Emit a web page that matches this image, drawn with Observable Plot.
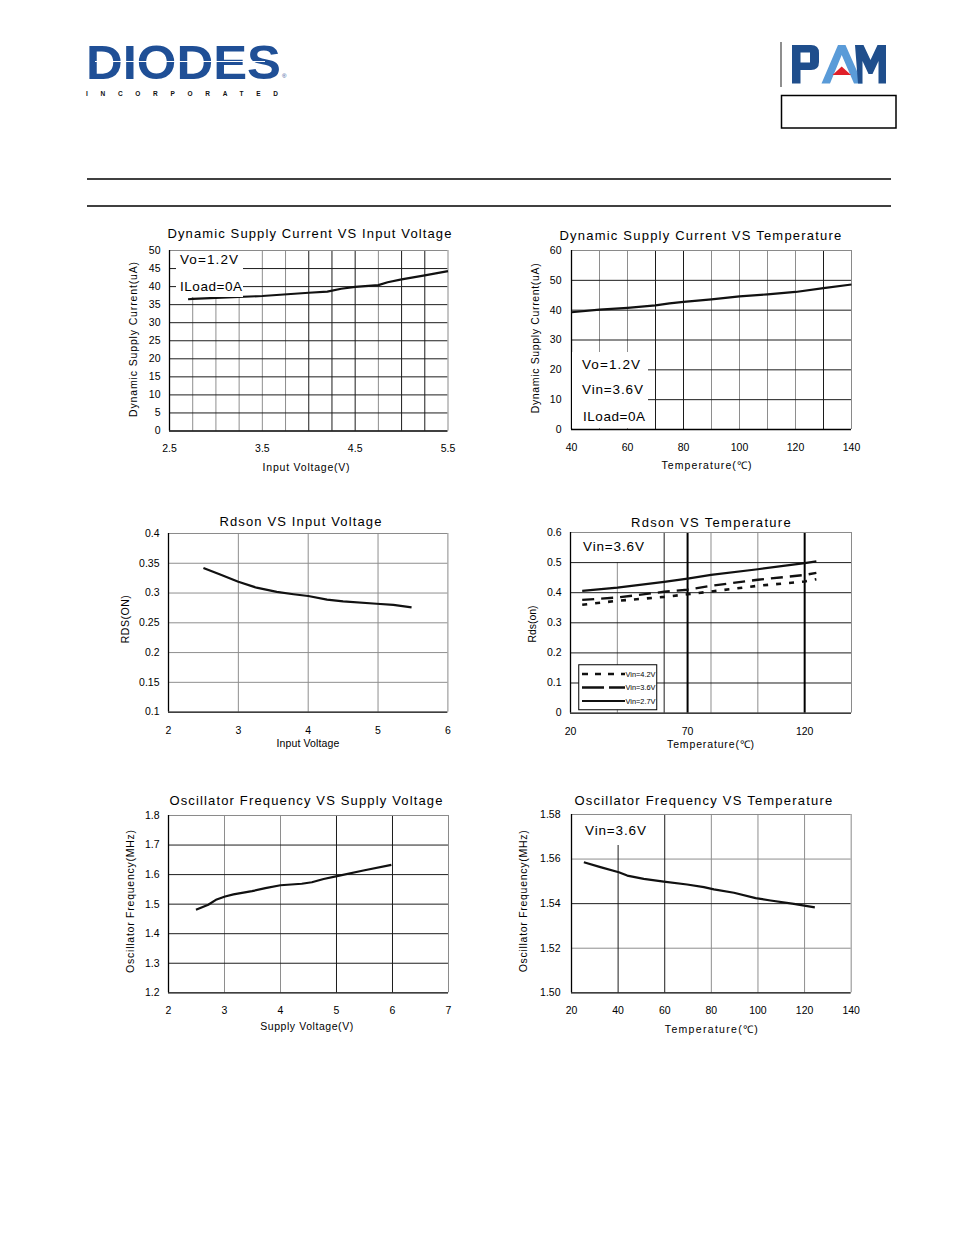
<!DOCTYPE html>
<html>
<head>
<meta charset="utf-8">
<script src="https://cdn.jsdelivr.net/npm/d3@7"></script>
<script src="https://cdn.jsdelivr.net/npm/@observablehq/plot@0.6"></script>
<style>
  html, body { margin: 0; padding: 0; background: #fff; }
  #page { position: relative; width: 954px; height: 1235px; overflow: hidden; background: #fff; }
  .abs { position: absolute; }
</style>
</head>
<body>
<div id="page"></div>
<script>
// ---------------- DATA ----------------
// Chart 1: Dynamic Supply Current VS Input Voltage
const c1X = [2.7, 2.75, 3.0, 3.5, 4.0, 4.2, 4.35, 4.5, 4.75, 4.85, 5.0, 5.25, 5.5];
const c1Y = [36.5, 36.6, 36.9, 37.4, 38.3, 38.6, 39.4, 39.9, 40.4, 41.2, 42.0, 43.1, 44.3];
const c1XTicks = [2.5, 3.5, 4.5, 5.5];
const c1YTicks = [0, 5, 10, 15, 20, 25, 30, 35, 40, 45, 50];

// Chart 2: Dynamic Supply Current VS Temperature
const c2X = [40, 50, 60, 70, 75, 80, 90, 100, 110, 120, 130, 140];
const c2Y = [39.3, 40.2, 40.8, 41.6, 42.3, 42.8, 43.6, 44.6, 45.3, 46.1, 47.4, 48.6];
const c2XTicks = [40, 60, 80, 100, 120, 140];
const c2YTicks = [0, 10, 20, 30, 40, 50, 60];

// Chart 3: Rdson VS Input Voltage
const c3X = [2.5, 2.74, 3.0, 3.26, 3.55, 3.79, 4.0, 4.27, 4.5, 4.98, 5.22, 5.48];
const c3Y = [0.342, 0.331, 0.319, 0.309, 0.302, 0.298, 0.295, 0.289, 0.286, 0.282, 0.280, 0.276];
const c3XTicks = [2, 3, 4, 5, 6];
const c3YTicks = [0.1, 0.15, 0.2, 0.25, 0.3, 0.35, 0.4];

// Chart 4: Rdson VS Temperature
const c4X = [25, 40, 60, 70, 80, 100, 120, 125];
const c4Y42 = [0.360, 0.373, 0.386, 0.395, 0.404, 0.423, 0.437, 0.445];
const c4Y36 = [0.376, 0.384, 0.403, 0.410, 0.423, 0.443, 0.459, 0.466];
const c4Y27 = [0.406, 0.417, 0.436, 0.447, 0.459, 0.478, 0.498, 0.504];
const c4Labels = ["Vin=4.2V", "Vin=3.6V", "Vin=2.7V"];
const c4XTicks = [20, 70, 120];
const c4YTicks = [0, 0.1, 0.2, 0.3, 0.4, 0.5, 0.6];

// Chart 5: Oscillator Frequency VS Supply Voltage
const c5X = [2.49, 2.71, 2.86, 3.01, 3.16, 3.49, 3.73, 4.0, 4.38, 4.56, 4.77, 5.01, 5.48, 5.98];
const c5Y = [1.481, 1.498, 1.516, 1.526, 1.533, 1.544, 1.554, 1.564, 1.569, 1.574, 1.585, 1.595, 1.614, 1.633];
const c5XTicks = [2, 3, 4, 5, 6, 7];
const c5YTicks = [1.2, 1.3, 1.4, 1.5, 1.6, 1.7, 1.8];

// Chart 6: Oscillator Frequency VS Temperature
const c6X = [25.3, 32.4, 40.3, 43.9, 51, 59.6, 69.6, 76.8, 81.1, 89.7, 99, 105.4, 115.4, 124.4];
const c6Y = [1.5586, 1.5564, 1.5541, 1.5526, 1.5511, 1.5499, 1.5486, 1.5474, 1.5464, 1.5449, 1.5425, 1.5414, 1.5399, 1.5383];
const c6XTicks = [20, 40, 60, 80, 100, 120, 140];
const c6YTicks = [1.50, 1.52, 1.54, 1.56, 1.58];

// ---------------- HELPERS ----------------
const FONT = "'Liberation Sans', Arial, sans-serif";
const LIGHT = "#8e8e8e", DARK = "#1c1c1c", FRAMEL = "#8a8a8a";
const page = document.getElementById("page");
const ctx = document.createElement("canvas").getContext("2d");

function txt(str, o) {
  const size = o.size || 10.5, weight = o.weight || "normal";
  const d = document.createElement("div");
  d.textContent = str;
  ctx.font = `${weight} ${size}px ${FONT}`;
  const m = ctx.measureText(str).width;
  const ls = o.width ? (o.width - m) / Math.max(1, str.length - 1) : 0;
  d.style.cssText = `position:absolute;left:${o.x}px;top:${o.y}px;font-family:${FONT};font-size:${size}px;font-weight:${weight};letter-spacing:${ls}px;white-space:nowrap;line-height:1;color:${o.color || "#000"};`;
  let t;
  if (o.anchor === "start") t = "translate(0,-50%)";
  else t = "translate(-50%,-50%)";
  if (o.rotate) t += " rotate(-90deg)";
  d.style.transform = t;
  page.appendChild(d);
  return d;
}

function box(b) {
  const d = document.createElement("div");
  d.style.cssText = `position:absolute;left:${b.x}px;top:${b.y}px;width:${b.w}px;height:${b.h}px;background:#fff;`;
  page.appendChild(d);
}

function toRows(xs, ys) { return xs.map((x, i) => ({x, y: ys[i]})); }

function makeChart(c) {
  const mL = 50, mR = 12, mT = 8, mB = 30;
  const w = c.R - c.L, h = c.B - c.T;
  const [x0, x1] = c.xDomain, [y0, y1] = c.yDomain;
  const marks = [];
  if (c.gyLight) marks.push(Plot.ruleY(c.gyLight, {stroke: LIGHT, strokeWidth: 1}));
  if (c.gxLight) marks.push(Plot.ruleX(c.gxLight, {stroke: LIGHT, strokeWidth: 1}));
  if (c.gyDark) marks.push(Plot.ruleY(c.gyDark, {stroke: DARK, strokeWidth: 1}));
  if (c.gxDark) marks.push(Plot.ruleX(c.gxDark, {stroke: DARK, strokeWidth: 1}));
  if (c.gxThick) marks.push(Plot.ruleX(c.gxThick, {stroke: "#000", strokeWidth: 2}));
  marks.push(Plot.ruleX([x1], {stroke: FRAMEL, strokeWidth: 1}));
  marks.push(Plot.ruleY([y1], {stroke: FRAMEL, strokeWidth: 1}));
  marks.push(Plot.ruleX([x0], {stroke: "#000", strokeWidth: 1.3}));
  marks.push(Plot.ruleY([y0], {stroke: "#000", strokeWidth: 1.3}));
  for (const s of c.series) {
    marks.push(Plot.line(toRows(s.x, s.y), {x: "x", y: "y", stroke: "#111", strokeWidth: s.sw || 2.2, strokeDasharray: s.dash, strokeLinecap: "butt"}));
  }
  const svg = Plot.plot({
    width: w + mL + mR, height: h + mT + mB,
    marginLeft: mL, marginRight: mR, marginTop: mT, marginBottom: mB,
    x: {domain: [x0, x1], ticks: c.xTicks, tickSize: 0, tickPadding: 14, tickFormat: c.xFmt || (d => String(d)), label: null},
    y: {domain: [y0, y1], ticks: c.yTicks, tickSize: 0, tickPadding: c.yPad, tickFormat: c.yFmt || (d => String(d)), label: null},
    style: {fontFamily: FONT, fontSize: "10.5px", color: "#000", background: "transparent", overflow: "visible"},
    marks
  });
  const wrap = document.createElement("div");
  wrap.className = "abs";
  wrap.style.left = (c.L - mL) + "px";
  wrap.style.top = (c.T - mT) + "px";
  wrap.appendChild(svg);
  page.appendChild(wrap);
}

// ---------------- HEADER ----------------
const header = document.createElementNS("http://www.w3.org/2000/svg", "svg");
header.setAttribute("width", 954); header.setAttribute("height", 215);
header.setAttribute("style", "position:absolute;left:0;top:0");
header.innerHTML = `
  <line x1="781" y1="42" x2="781" y2="87" stroke="#444" stroke-width="1.2"/>
  <path d="M792,45 H811 Q819,45 819,53 V62 Q819,70 811,70 H800.5 V83.5 H792 Z M800.5,52.5 V62.5 H810 V52.5 Z" fill="#1f4e8c" fill-rule="evenodd"/>
  <polygon points="821.5,83.5 838,45 845.5,45 862.5,83.5 854,83.5 841.7,55 830,83.5" fill="#5a9bd8"/>
  <polygon points="841.7,66.5 851,75 832.5,75" fill="#e0202a"/>
  <polygon points="855,45 863.5,45 870.5,60 877.5,45 886,45 886,83.5 878.5,83.5 878.5,61 872.5,74 868.5,74 862.5,61 862.5,83.5 858,83.5" fill="#1f4e8c"/>
  <rect x="781.5" y="95.5" width="114.5" height="32.5" fill="none" stroke="#000" stroke-width="1.5"/>
  <line x1="87" y1="179" x2="891" y2="179" stroke="#000" stroke-width="1.5"/>
  <line x1="87" y1="206" x2="891" y2="206" stroke="#000" stroke-width="1.5"/>
`;
page.appendChild(header);

// DIODES logo (text); placed so the font boxes of the two lines do not touch
{
  const LOGOFONT = "'Liberation Sans', Arial, sans-serif";
  const fs = 49, baseline = 79;
  ctx.font = `bold ${fs}px ${LOGOFONT}`;
  const m = ctx.measureText("DIODES").width;
  const sx = 195 / m;
  const d = document.createElement("div");
  d.textContent = "DIODES";
  d.style.cssText = `position:absolute;left:86px;top:${baseline - 0.905 * fs}px;font-family:${LOGOFONT};font-weight:bold;font-size:${fs}px;line-height:${1.117 * fs}px;color:#1f4f96;white-space:nowrap;transform-origin:0 0;transform:scaleX(${sx});`;
  page.appendChild(d);
  const stripe = document.createElement("div");
  stripe.style.cssText = "position:absolute;left:95px;top:60.5px;width:170px;height:1.6px;background:#fff;";
  page.appendChild(stripe);
  const r = document.createElement("div");
  r.textContent = "®";
  r.style.cssText = `position:absolute;left:282px;top:73px;font-family:${LOGOFONT};font-size:6px;line-height:6px;color:#1f4f96;`;
  page.appendChild(r);
  const inc = "INCORPORATED";
  const ifs = 6.5;
  ctx.font = `bold ${ifs}px ${LOGOFONT}`;
  const mi = ctx.measureText(inc).width;
  const ls = (192 - mi) / (inc.length - 1);
  const t = document.createElement("div");
  t.textContent = inc;
  const ib = 96;
  t.style.cssText = `position:absolute;left:86px;top:${ib - 0.905 * ifs}px;font-family:${LOGOFONT};font-weight:bold;font-size:${ifs}px;line-height:${1.117 * ifs}px;letter-spacing:${ls}px;color:#111;white-space:nowrap;`;
  page.appendChild(t);
}

// ---------------- CHARTS ----------------
// Chart 1
makeChart({L: 169, T: 249.5, R: 447.5, B: 430, xDomain: [2.5, 5.5], yDomain: [0, 50],
  xTicks: c1XTicks, yTicks: c1YTicks, yPad: 9,
  gxLight: [2.75, 3.0, 3.25, 3.5, 3.75, 4.75], gxDark: [4.0, 4.25, 4.5, 5.0, 5.25],
  gyDark: [5, 10, 15, 20, 25, 30, 35, 40, 45],
  series: [{x: c1X, y: c1Y}]});
box({x: 176, y: 250.5, w: 67, h: 46});
txt("Vo=1.2V", {x: 180, y: 260, size: 13.5, width: 58, anchor: "start"});
txt("ILoad=0A", {x: 180, y: 287, size: 13.5, width: 62, anchor: "start"});
txt("Dynamic Supply Current VS Input Voltage", {x: 310, y: 232.5, size: 13, width: 284});
txt("Input Voltage(V)", {x: 306.5, y: 466.5, size: 10.5, width: 87});
txt("Dynamic Supply Current(uA)", {x: 133, y: 338.5, size: 10.5, width: 155, rotate: true});

// Chart 2
makeChart({L: 570.5, T: 250, R: 850.5, B: 429, xDomain: [40, 140], yDomain: [0, 60],
  xTicks: c2XTicks, yTicks: c2YTicks, yPad: 10,
  gxLight: [50, 60, 90, 100, 110, 120], gxDark: [70, 80, 130],
  gyDark: [10, 20, 30, 40, 50],
  series: [{x: c2X, y: c2Y}]});
box({x: 571.5, y: 352, w: 76.5, h: 76});
txt("Vo=1.2V", {x: 582, y: 365, size: 13.5, width: 58, anchor: "start"});
txt("Vin=3.6V", {x: 582, y: 390, size: 13.5, width: 61, anchor: "start"});
txt("ILoad=0A", {x: 583, y: 416.5, size: 13.5, width: 62, anchor: "start"});
txt("Dynamic Supply Current VS Temperature", {x: 701, y: 235, size: 13, width: 282});
txt("Temperature(\u2103)", {x: 707, y: 465, size: 10.5, width: 90});
txt("Dynamic Supply Current(uA)", {x: 535, y: 338, size: 10.5, width: 150, rotate: true});

// Chart 3
makeChart({L: 168.3, T: 532.7, R: 447.7, B: 711.3, xDomain: [2, 6], yDomain: [0.1, 0.4],
  xTicks: c3XTicks, yTicks: c3YTicks, yPad: 9,
  gxLight: [3, 4, 5], gyLight: [0.15, 0.2, 0.25, 0.3, 0.35],
  series: [{x: c3X, y: c3Y}]});
txt("Rdson VS Input Voltage", {x: 301, y: 521, size: 13, width: 162});
txt("Input Voltage", {x: 308, y: 743, size: 10.5, width: 63});
txt("RDS(ON)", {x: 125, y: 619, size: 10.5, width: 48, rotate: true});

// Chart 4
makeChart({L: 570, T: 531.7, R: 851, B: 712.3, xDomain: [20, 140], yDomain: [0, 0.6],
  xTicks: c4XTicks, yTicks: c4YTicks, yPad: 9,
  gxLight: [40, 80, 100], gxDark: [60], gxThick: [70, 120],
  gyDark: [0.1, 0.2, 0.3, 0.4, 0.5],
  series: [
    {x: c4X, y: c4Y42, dash: "5,8", sw: 2.6},
    {x: c4X, y: c4Y36, dash: "12,7", sw: 2.4},
    {x: c4X, y: c4Y27, sw: 2.2}
  ]});
box({x: 578, y: 532.5, w: 75, h: 29});
txt("Vin=3.6V", {x: 583, y: 546.7, size: 13.5, width: 61, anchor: "start"});
txt("Rdson VS Temperature", {x: 711.5, y: 521.5, size: 13, width: 160});
txt("Temperature(\u2103)", {x: 711, y: 744, size: 10.5, width: 87});
txt("Rds(on)", {x: 532, y: 624, size: 10.5, width: 37, rotate: true});
// legend for chart 4
{
  const lg = document.createElementNS("http://www.w3.org/2000/svg", "svg");
  lg.setAttribute("width", 80); lg.setAttribute("height", 47);
  lg.setAttribute("style", "position:absolute;left:577.5px;top:663.5px");
  const dashes = ["6,7", "22,5", null];
  const widths = [2.4, 2.4, 2.0];
  let inner = `<rect x="0.75" y="0.75" width="78" height="45" fill="#fff" stroke="#000" stroke-width="1"/>`;
  c4Labels.forEach((lab, i) => {
    const yy = 10 + i * 13.5;
    inner += `<line x1="4" x2="47" y1="${yy}" y2="${yy}" stroke="#111" stroke-width="${widths[i]}" ${dashes[i] ? `stroke-dasharray="${dashes[i]}"` : ""}/>`;
    inner += `<text x="47.5" y="${yy + 2.5}" font-family="${FONT.replace(/'/g, "")}" font-size="7" textLength="30" lengthAdjust="spacingAndGlyphs" fill="#000">${lab}</text>`;
  });
  lg.innerHTML = inner;
  page.appendChild(lg);
}

// Chart 5
makeChart({L: 168.3, T: 815, R: 448.3, B: 992.3, xDomain: [2, 7], yDomain: [1.2, 1.8],
  xTicks: c5XTicks, yTicks: c5YTicks, yPad: 9, yFmt: d3.format(".1f"),
  gxLight: [3, 4], gxDark: [5, 6],
  gyDark: [1.3, 1.4, 1.5, 1.6, 1.7],
  series: [{x: c5X, y: c5Y}]});
txt("Oscillator Frequency VS Supply Voltage", {x: 306.5, y: 800, size: 13, width: 273});
txt("Supply Voltage(V)", {x: 307, y: 1026, size: 10.5, width: 93});
txt("Oscillator Frequency(MHz)", {x: 130, y: 901, size: 10.5, width: 143, rotate: true});

// Chart 6
makeChart({L: 571, T: 814, R: 850.7, B: 992.3, xDomain: [20, 140], yDomain: [1.50, 1.58],
  xTicks: c6XTicks, yTicks: c6YTicks, yPad: 11, yFmt: d3.format(".2f"),
  gxLight: [80, 100, 120], gxDark: [40, 60],
  gyLight: [1.52, 1.56], gyDark: [1.54],
  series: [{x: c6X, y: c6Y}]});
box({x: 575, y: 815, w: 77, h: 30});
txt("Vin=3.6V", {x: 585, y: 831, size: 13.5, width: 61, anchor: "start"});
txt("Oscillator Frequency VS Temperature", {x: 704, y: 800, size: 13, width: 258});
txt("Temperature(\u2103)", {x: 712, y: 1028.5, size: 10.5, width: 93});
txt("Oscillator Frequency(MHz)", {x: 523, y: 901, size: 10.5, width: 142, rotate: true});
</script>
</body>
</html>
